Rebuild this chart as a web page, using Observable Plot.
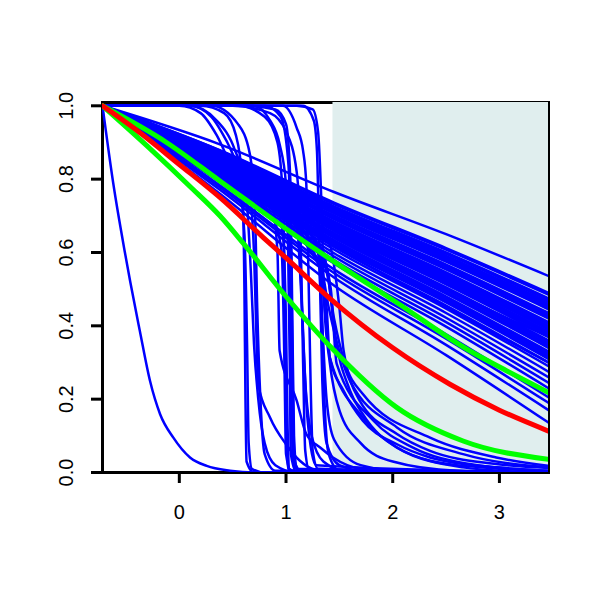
<!DOCTYPE html>
<html><head><meta charset="utf-8">
<script src="https://cdn.jsdelivr.net/npm/d3@7"></script>
<script src="https://cdn.jsdelivr.net/npm/@observablehq/plot@0.6"></script>
<style>body{margin:0;background:#fff;} #chart{width:600px;height:600px;}</style>
</head><body><div id="chart"></div>
<script>
const xDomain = [-0.72, 3.46];
const yDomain = [0, 1.009];
const xTicks = [0, 1, 2, 3];
const yTicks = [0, 0.2, 0.4, 0.6, 0.8, 1.0];
const shadeStart = 1.44;

// fan of gently falling curves, y read at these x positions
const fanX = [-0.72, 0.38, 1.45, 2.5, 3.46];
const fanY = [
  [1, 0.895, 0.765, 0.650, 0.536],
  [1, 0.879, 0.736, 0.612, 0.490],
  [1, 0.878, 0.732, 0.608, 0.485],
  [1, 0.874, 0.726, 0.600, 0.475],
  [1, 0.873, 0.723, 0.596, 0.470],
  [1, 0.871, 0.720, 0.591, 0.465],
  [1, 0.869, 0.717, 0.587, 0.460],
  [1, 0.868, 0.713, 0.583, 0.455],
  [1, 0.866, 0.710, 0.579, 0.450],
  [1, 0.864, 0.707, 0.575, 0.445],
  [1, 0.861, 0.701, 0.567, 0.435],
  [1, 0.859, 0.697, 0.563, 0.430],
  [1, 0.858, 0.694, 0.558, 0.425],
  [1, 0.856, 0.691, 0.554, 0.420],
  [1, 0.852, 0.685, 0.546, 0.410],
  [1, 0.851, 0.681, 0.542, 0.405],
  [1, 0.849, 0.678, 0.538, 0.400],
  [1, 0.847, 0.675, 0.534, 0.395],
  [1, 0.846, 0.672, 0.530, 0.390],
  [1, 0.844, 0.669, 0.525, 0.385],
  [1, 0.842, 0.666, 0.521, 0.380],
  [1, 0.841, 0.662, 0.517, 0.375],
  [1, 0.839, 0.659, 0.513, 0.370],
  [1, 0.836, 0.653, 0.505, 0.360],
  [1, 0.834, 0.650, 0.501, 0.355],
  [1, 0.832, 0.646, 0.497, 0.350],
  [1, 0.831, 0.643, 0.492, 0.345],
  [1, 0.829, 0.640, 0.488, 0.340],
  [1, 0.825, 0.634, 0.480, 0.330],
  [1, 0.824, 0.630, 0.476, 0.325],
  [1, 0.822, 0.627, 0.472, 0.320],
  [1, 0.820, 0.624, 0.468, 0.315],
  [1, 0.819, 0.621, 0.464, 0.310],
  [1, 0.815, 0.615, 0.455, 0.300],
  [1, 0.812, 0.608, 0.447, 0.290],
  [1, 0.807, 0.598, 0.435, 0.275],
  [1, 0.802, 0.589, 0.422, 0.260],
  [1, 0.797, 0.579, 0.410, 0.245],
  [1, 0.792, 0.570, 0.398, 0.230],
  [1, 0.783, 0.554, 0.377, 0.205],
  [1, 0.778, 0.544, 0.365, 0.190],
  [1, 0.771, 0.532, 0.348, 0.170],
  [1, 0.760, 0.510, 0.320, 0.136]
];

// steep early curve
const earlyCurve = [[-0.72,1],[-0.62,0.79],[-0.51,0.60],[-0.46,0.52],[-0.37,0.386],[-0.275,0.25],[-0.18,0.159],[-0.056,0.095],[0.1,0.041],[0.257,0.018],[0.475,0.005],[0.7,0],[3.46,0]];

// curves that stay high, then drop sharply
const dropCurves = [
  [[-0.72,1],[0.2,1],[0.42,0.98],[0.53,0.92],[0.59,0.8],[0.61,0.5],[0.62,0.2],[0.63,0.03],[0.7,0],[3.46,0]],
  [[-0.72,1],[0.38,0.83],[0.55,0.79],[0.61,0.65],[0.635,0.35],[0.65,0.08],[0.68,0.01],[0.8,0],[3.46,0]],
  [[-0.72,1],[0.1,1],[0.35,0.96],[0.52,0.88],[0.62,0.78],[0.67,0.55],[0.7,0.35],[0.74,0.2],[0.8,0.08],[0.9,0.02],[1.1,0],[3.46,0]],
  [[-0.72,1],[0.3,1],[0.55,0.95],[0.66,0.87],[0.71,0.7],[0.73,0.45],[0.76,0.2],[0.8,0.05],[0.9,0.005],[3.46,0]],
  [[-0.72,1],[0.38,0.84],[0.65,0.77],[0.7,0.6],[0.72,0.4],[0.74,0.24],[0.85,0.15],[1.0,0.077],[1.13,0.032],[1.25,0.01],[1.5,0],[3.46,0]],
  [[-0.72,1],[0.55,1],[0.8,0.97],[0.92,0.9],[0.97,0.75],[0.99,0.45],[1.0,0.15],[1.02,0.01],[1.15,0],[3.46,0]],
  [[-0.72,1],[0.69,1],[0.85,0.96],[0.94,0.895],[1.0,0.786],[1.02,0.6],[1.035,0.3],[1.045,0.05],[1.1,0],[3.46,0]],
  [[-0.72,1],[0.38,0.83],[0.9,0.73],[0.97,0.65],[1.0,0.4],[1.015,0.12],[1.03,0.01],[1.1,0],[3.46,0]],
  [[-0.72,1],[0.38,0.86],[0.95,0.75],[1.02,0.66],[1.045,0.35],[1.06,0.08],[1.08,0.005],[3.46,0]],
  [[-0.72,1],[0.8,1],[0.95,0.97],[1.02,0.85],[1.05,0.55],[1.065,0.2],[1.08,0.03],[1.15,0],[3.46,0]],
  [[-0.72,1],[0.38,0.81],[0.88,0.69],[0.96,0.6],[0.985,0.3],[1.0,0.05],[1.05,0],[3.46,0]],
  [[-0.72,1],[0.38,0.845],[0.98,0.74],[1.03,0.65],[1.05,0.3],[1.07,0.04],[1.12,0],[3.46,0]],
  [[-0.72,1],[0.6,1],[0.9,0.99],[1.0,0.95],[1.04,0.8],[1.06,0.4],[1.075,0.1],[1.1,0.01],[3.46,0]],
  [[-0.72,1],[0.38,0.85],[0.85,0.76],[0.92,0.6],[0.94,0.332],[1.1,0.196],[1.19,0.105],[1.32,0.068],[1.44,0.041],[1.7,0.01],[2.2,0],[3.46,0]],
  [[-0.72,1],[0.5,1],[0.85,0.98],[1.0,0.93],[1.1,0.82],[1.14,0.6],[1.16,0.3],[1.18,0.06],[1.22,0.005],[3.46,0]],
  [[-0.72,1],[0.97,1],[1.1,0.94],[1.16,0.877],[1.19,0.786],[1.21,0.55],[1.23,0.25],[1.25,0.06],[1.3,0.01],[3.46,0]],
  [[-0.72,1],[0.38,0.85],[1.0,0.72],[1.1,0.68],[1.14,0.5],[1.18,0.25],[1.24,0.1],[1.35,0.03],[1.6,0],[3.46,0]],
  [[-0.72,1],[0.38,0.835],[1.05,0.7],[1.12,0.66],[1.15,0.45],[1.2,0.15],[1.28,0.02],[3.46,0]],
  [[-0.72,1],[1.16,1],[1.26,0.96],[1.29,0.877],[1.3,0.777],[1.32,0.5],[1.34,0.25],[1.38,0.08],[1.5,0.02],[1.8,0],[3.46,0]],
  [[-0.72,1],[0.38,0.84],[1.2,0.66],[1.3,0.6],[1.34,0.4],[1.38,0.2],[1.45,0.09],[1.7,0.02],[2.2,0],[3.46,0]],
  [[-0.72,1],[0.38,0.855],[1.2,0.7],[1.3,0.66],[1.33,0.5],[1.36,0.2],[1.4,0.05],[1.5,0.005],[3.46,0]],
  [[-0.72,1],[1.1,1],[1.25,0.99],[1.3,0.93],[1.33,0.75],[1.36,0.45],[1.41,0.3],[1.5,0.17],[1.7,0.08],[2.0,0.03],[2.6,0.005],[3.46,0]],
  [[-0.72,1],[0.0,1],[0.2,0.98],[0.35,0.92],[0.5,0.83],[0.65,0.78],[1.0,0.71],[1.45,0.62],[2.5,0.45],[3.46,0.3]],
  [[-0.72,1],[0.1,1],[0.3,0.97],[0.45,0.9],[0.55,0.84],[0.7,0.8],[1.0,0.74],[1.45,0.66],[2.5,0.5],[3.46,0.37]]
];

// slowly decaying tails inside the shaded zone
const tailCurves = [
  [[-0.72,1],[0.38,0.82],[1.3,0.6],[1.4,0.52],[1.45,0.395],[1.6,0.223],[1.72,0.159],[2.04,0.068],[2.66,0.014],[3.2,0.002],[3.46,0]],
  [[-0.72,1],[0.38,0.81],[1.3,0.57],[1.38,0.45],[1.41,0.314],[1.54,0.223],[1.72,0.141],[2.04,0.077],[2.35,0.041],[2.97,0.014],[3.46,0.005]],
  [[-0.72,1],[0.38,0.835],[1.3,0.62],[1.42,0.5],[1.475,0.296],[1.82,0.141],[2.19,0.068],[2.72,0.023],[3.41,0.005],[3.46,0.004]],
  [[-0.72,1],[0.38,0.845],[1.4,0.63],[1.5,0.45],[1.54,0.332],[1.69,0.196],[2.04,0.105],[2.35,0.059],[2.97,0.023],[3.46,0.012]],
  [[-0.72,1],[0.38,0.825],[1.3,0.58],[1.38,0.4],[1.41,0.314],[1.72,0.15],[2.04,0.068],[2.35,0.032],[2.82,0.014],[3.46,0.004]],
  [[-0.72,1],[0.38,0.83],[1.3,0.6],[1.4,0.45],[1.5,0.33],[1.6,0.25],[2.04,0.123],[2.66,0.05],[3.46,0.014]],
  [[-0.72,1],[0.38,0.84],[1.35,0.6],[1.45,0.42],[1.55,0.3],[1.72,0.214],[2.35,0.095],[2.97,0.041],[3.46,0.018]]
];

const redCurve = [[-0.72,1],[-0.43,0.94],[0.0,0.84],[0.38,0.75],[0.79,0.64],[1.0,0.585],[1.41,0.475],[2.0,0.34],[2.54,0.24],[3.0,0.17],[3.46,0.113]];
const greenUpper = [[-0.72,1],[-0.12,0.90],[0.38,0.795],[1.16,0.632],[1.45,0.575],[2.04,0.463],[2.72,0.332],[3.07,0.277],[3.46,0.218]];
const greenLower = [[-0.72,1],[-0.3,0.89],[0.1,0.78],[0.38,0.70],[0.6,0.625],[1.0,0.48],[1.41,0.345],[2.04,0.177],[2.66,0.086],[3.46,0.036]];

const toRows = (pts, id) => pts.map(([x, y]) => ({id, x, y}));
const blueRows = [
  ...fanY.flatMap((ys, i) => ys.map((y, j) => ({id: "fan" + i, x: fanX[j], y}))),
  ...toRows(earlyCurve, "early"),
  ...dropCurves.flatMap((c, i) => toRows(c, "drop" + i)),
  ...tailCurves.flatMap((c, i) => toRows(c, "tail" + i))
];

const font = "'Liberation Sans', Arimo, Arial, Helvetica, sans-serif";

const chart = Plot.plot({
  width: 600,
  height: 600,
  marginLeft: 102,
  marginRight: 52,
  marginTop: 102,
  marginBottom: 128,
  style: {fontFamily: font, background: "white"},
  x: {domain: xDomain, axis: null},
  y: {domain: yDomain, axis: null},
  marks: [
    Plot.frame({stroke: "black", strokeWidth: 3}),
    Plot.rect([0], {x1: () => shadeStart, x2: () => 3.6, y1: () => 0.004, y2: () => 1.1, fill: "#E0EEEE", clip: true}),
    Plot.line(blueRows, {x: "x", y: "y", z: "id", stroke: "#0000FF", strokeWidth: 2.5, curve: "monotone-x", clip: true}),
    Plot.line(toRows(greenUpper, "g1"), {x: "x", y: "y", stroke: "#00FF00", strokeWidth: 5, curve: "monotone-x", clip: true}),
    Plot.line(toRows(greenLower, "g2"), {x: "x", y: "y", stroke: "#00FF00", strokeWidth: 5, curve: "monotone-x", clip: true}),
    Plot.line(toRows(redCurve, "r"), {x: "x", y: "y", stroke: "#FF0000", strokeWidth: 5, curve: "monotone-x", clip: true}),
    Plot.axisX(xTicks, {tickSize: 11, strokeWidth: 3, tickFormat: () => "", stroke: "black", label: null}),
    Plot.axisY(yTicks, {tickSize: 11, strokeWidth: 3, tickFormat: () => "", stroke: "black", label: null}),
    Plot.text(xTicks, {x: d => d, y: () => 0, dy: 40, text: d => String(d), fontSize: "20px", fill: "black"}),
    Plot.text(yTicks, {x: () => xDomain[0], y: d => d, dx: -36, rotate: -90, text: d => d.toFixed(1), fontSize: "20px", fill: "black"})
  ]
});
document.getElementById("chart").appendChild(chart);
</script>
</body></html>
